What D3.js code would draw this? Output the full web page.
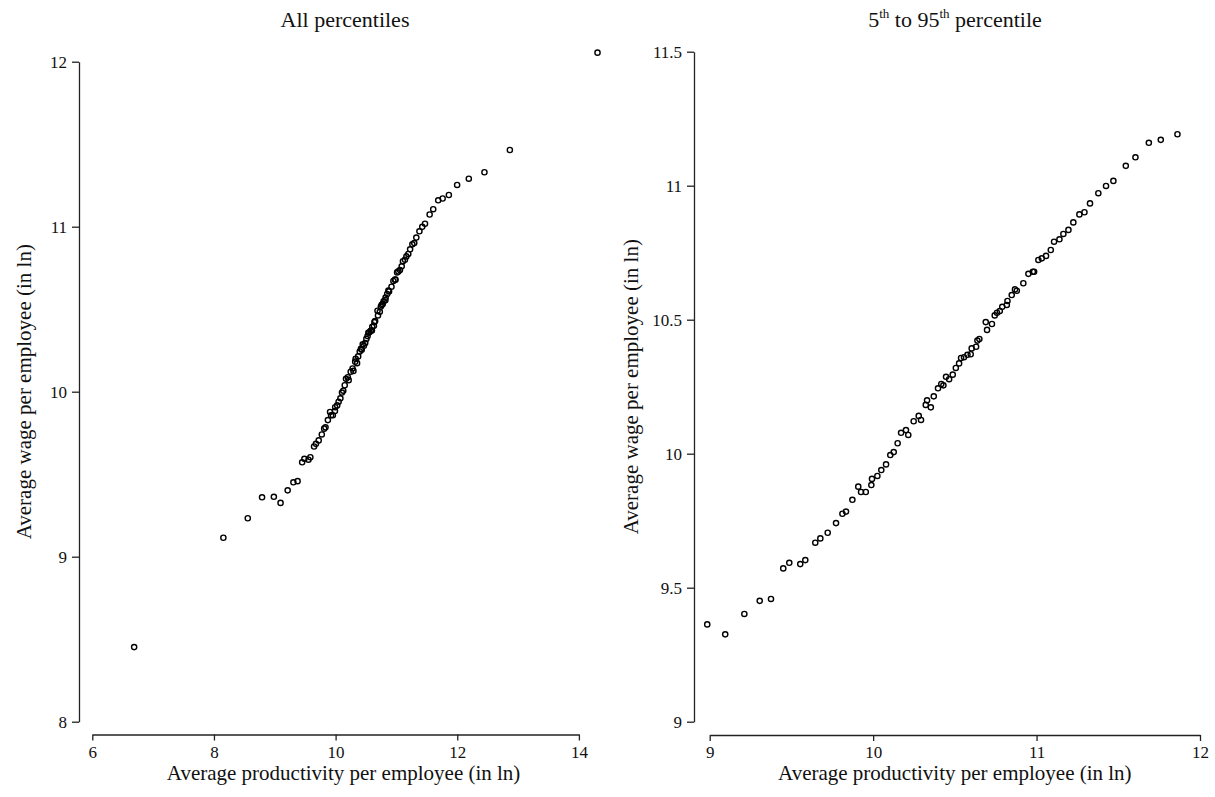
<!DOCTYPE html>
<html>
<head>
<meta charset="utf-8">
<script src="https://cdn.jsdelivr.net/npm/d3@7"></script>
<style>
  body { margin: 0; background: #fff; }
  svg text { font-family: "Liberation Serif", "Times New Roman", serif; fill: #111; }
</style>
</head>
<body>
<div id="chart"></div>
<script>
// percentile points (productivity, wage), both in ln
// lower tail: percentiles below the 5th
var lowTailX = [6.688, 8.155, 8.556, 8.791];
var lowTailY = [8.452, 9.115, 9.233, 9.360];

// 5th to 95th percentile
var coreX = [8.985, 9.095, 9.212, 9.306, 9.375, 9.450, 9.487, 9.554, 9.585, 9.646,
             9.677, 9.722, 9.773, 9.812, 9.834, 9.873, 9.909, 9.926, 9.955, 9.989,
             9.993, 10.026, 10.050, 10.079, 10.105, 10.126, 10.150, 10.171, 10.201, 10.215,
             10.248, 10.279, 10.293, 10.322, 10.330, 10.353, 10.371, 10.397, 10.417, 10.430,
             10.446, 10.465, 10.487, 10.506, 10.526, 10.538, 10.556, 10.577, 10.597, 10.603,
             10.630, 10.638, 10.650, 10.689, 10.697, 10.727, 10.744, 10.758, 10.775, 10.790,
             10.818, 10.822, 10.848, 10.868, 10.879, 10.919, 10.950, 10.977, 10.985, 11.011,
             11.032, 11.058, 11.087, 11.107, 11.140, 11.164, 11.195, 11.225, 11.262, 11.293,
             11.327, 11.378, 11.425, 11.470, 11.546, 11.605, 11.687, 11.760, 11.862];
var coreY = [9.363, 9.326, 9.402, 9.451, 9.458, 9.572, 9.593, 9.588, 9.603, 9.668,
             9.684, 9.705, 9.741, 9.776, 9.784, 9.828, 9.877, 9.857, 9.857, 9.883,
             9.906, 9.917, 9.939, 9.960, 9.995, 10.006, 10.039, 10.078, 10.088, 10.070,
             10.121, 10.141, 10.126, 10.182, 10.199, 10.173, 10.214, 10.244, 10.260, 10.255,
             10.287, 10.278, 10.295, 10.320, 10.337, 10.357, 10.360, 10.369, 10.371, 10.393,
             10.399, 10.422, 10.428, 10.491, 10.462, 10.484, 10.516, 10.526, 10.532, 10.548,
             10.555, 10.570, 10.592, 10.613, 10.608, 10.636, 10.671, 10.679, 10.679, 10.723,
             10.729, 10.738, 10.760, 10.791, 10.800, 10.820, 10.835, 10.863, 10.893, 10.901,
             10.934, 10.972, 10.999, 11.018, 11.074, 11.106, 11.160, 11.171, 11.192];

// upper tail: above the 95th
var highTailX = [11.998, 12.190, 12.447, 12.865, 14.306];
var highTailY = [11.253, 11.291, 11.330, 11.465, 12.055];

// axis ticks
var leftXTicks = [6, 8, 10, 12, 14];
var leftYTicks = [8, 9, 10, 11, 12];
var rightXTicks = [9, 10, 11, 12];
var rightYTicks = [9, 9.5, 10, 10.5, 11, 11.5];

var xTitle = "Average productivity per employee (in ln)";
var yTitle = "Average wage per employee (in ln)";

var svgWidth = 1215;
var svgHeight = 797;

var svg = d3.select("#chart")
    .append("svg")
    .attr("width", svgWidth)
    .attr("height", svgHeight);

function toPoints(xs, ys) {
    return xs.map((x, i) => ({ x: x, y: ys[i] }));
}

var allPoints = toPoints(lowTailX, lowTailY)
    .concat(toPoints(coreX, coreY))
    .concat(toPoints(highTailX, highTailY));
var corePoints = toPoints(coreX, coreY);

// draws one panel: box = pixel placement of the axes
function drawPanel(points, box, xTicks, yTicks) {
    var xScale = d3.scaleLinear()
        .domain(d3.extent(xTicks))
        .range([box.x0, box.x1]);
    var yScale = d3.scaleLinear()
        .domain(d3.extent(yTicks))
        .range([box.y0, box.y1]);

    var xAxis = svg.append("g")
        .attr("transform", `translate(0, ${box.xAxisY})`)
        .call(d3.axisBottom(xScale).tickValues(xTicks).tickSizeOuter(0).tickSizeInner(6).tickPadding(5).tickFormat(d3.format("")));

    var yAxis = svg.append("g")
        .attr("transform", `translate(${box.yAxisX}, 0)`)
        .call(d3.axisLeft(yScale).tickValues(yTicks).tickSizeOuter(0).tickSizeInner(7).tickPadding(5).tickFormat(d3.format("")));

    [xAxis, yAxis].forEach(function(ax) {
        ax.attr("font-family", null);
        ax.selectAll("path.domain").attr("stroke", "#222").attr("stroke-width", 1.3);
        ax.selectAll(".tick line").attr("stroke", "#222").attr("stroke-width", 1.3);
        ax.selectAll(".tick text")
            .style("font-family", "'Liberation Serif', serif")
            .style("font-size", "17px")
            .attr("fill", "#111");
    });

    svg.append("g")
        .selectAll("circle")
        .data(points)
        .enter()
        .append("circle")
        .attr("cx", d => xScale(d.x))
        .attr("cy", d => yScale(d.y))
        .attr("r", 2.6)
        .attr("fill", "none")
        .attr("stroke", "#000")
        .attr("stroke-width", 1.4);

    // axis titles
    svg.append("text")
        .attr("x", (box.x0 + box.x1) / 2 + box.titleShift)
        .attr("y", 780)
        .attr("text-anchor", "middle")
        .style("font-size", "21px")
        .text(xTitle);

    svg.append("text")
        .attr("transform", `translate(${box.yTitleX}, ${(box.y0 + box.y1) / 2}) rotate(-90)`)
        .attr("text-anchor", "middle")
        .style("font-size", "21px")
        .text(yTitle);
}

drawPanel(allPoints,
    { x0: 92.3, x1: 578.9, y0: 721.7, y1: 61.7, xAxisY: 734.5, yAxisX: 79, yTitleX: 31, titleShift: 8 },
    leftXTicks, leftYTicks);

drawPanel(corePoints,
    { x0: 709.7, x1: 1200, y0: 721.7, y1: 51.7, xAxisY: 735, yAxisX: 694, yTitleX: 638, titleShift: 0 },
    rightXTicks, rightYTicks);

// panel titles
svg.append("text")
    .attr("x", 345)
    .attr("y", 27)
    .attr("text-anchor", "middle")
    .style("font-size", "22px")
    .text("All percentiles");

var t2 = svg.append("text")
    .attr("x", 955)
    .attr("y", 27)
    .attr("text-anchor", "middle")
    .style("font-size", "22px");
t2.append("tspan").text("5");
t2.append("tspan").attr("dy", -9).style("font-size", "13px").text("th");
t2.append("tspan").attr("dy", 9).text(" to 95");
t2.append("tspan").attr("dy", -9).style("font-size", "13px").text("th");
t2.append("tspan").attr("dy", 9).text(" percentile");
</script>
</body>
</html>
